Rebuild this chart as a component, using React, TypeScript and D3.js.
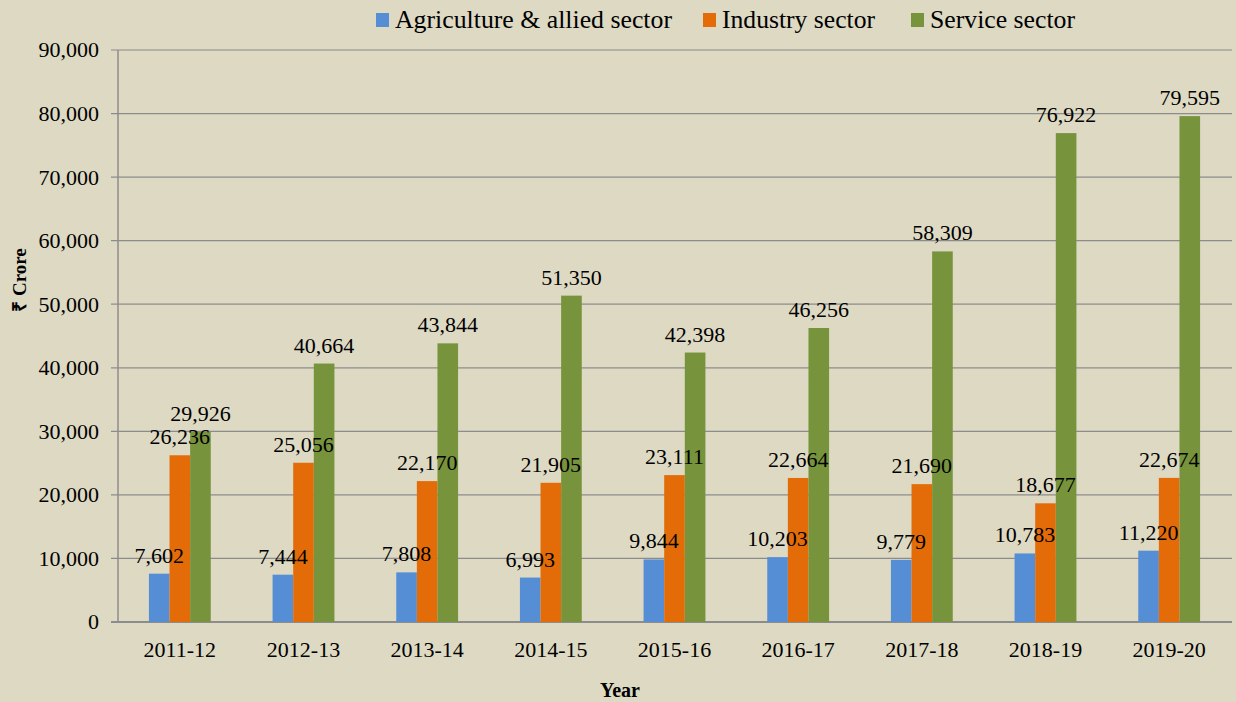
import React from "react";
import * as d3 from "d3";

const years = ["2011-12", "2012-13", "2013-14", "2014-15", "2015-16", "2016-17", "2017-18", "2018-19", "2019-20"];
const agriculture = [7602, 7444, 7808, 6993, 9844, 10203, 9779, 10783, 11220];
const industry = [26236, 25056, 22170, 21905, 23111, 22664, 21690, 18677, 22674];
const service = [29926, 40664, 43844, 51350, 42398, 46256, 58309, 76922, 79595];
const seriesNames = ["Agriculture & allied sector", "Industry sector", "Service sector"];
const seriesColors = ["#558ED5", "#E36C09", "#77933C"];
const yTicks = [0, 10000, 20000, 30000, 40000, 50000, 60000, 70000, 80000, 90000];

const W = 1236;
const H = 702;
const left = 118;
const right = 1231;
const top = 50;
const bottom = 622;
const FF = "Liberation Serif";

export default function App() {
  const seriesValues = [agriculture, industry, service];
  const x = d3.scaleBand().domain(years).range([left, right]).paddingInner(0.5).paddingOuter(0.25);
  const xi = d3.scaleBand().domain(seriesNames).range([0, x.bandwidth()]);
  const y = d3.scaleLinear().domain([0, 90000]).range([bottom, top]);
  const fmt = d3.format(",");

  const legendX = [376, 703, 911];
  const legendW = [277, 153, 145];

  const cells = years.flatMap((yr, i) =>
    seriesNames.map((s, j) => {
      const v = seriesValues[j][i];
      const bx = (x(yr) as number) + (xi(s) as number);
      return { key: yr + s, v, bx, color: seriesColors[j] };
    })
  );

  return (
    <svg width={W} height={H} style={{ position: "absolute", left: 0, top: 0, background: "#DDD9C3" }}>
      <rect x={0} y={0} width={W} height={H} fill="#DDD9C3" />
      {yTicks.map((t) => (
        <g key={t}>
          <line x1={111} x2={right + 1} y1={y(t)} y2={y(t)} stroke="#8C8C8C" strokeWidth={t === 0 ? 2 : 1.2} />
          <text x={99} y={y(t)} dy="0.34em" textAnchor="end" fontSize={22} fontFamily={FF} fill="#000">{fmt(t)}</text>
        </g>
      ))}
      <line x1={left} x2={left} y1={top} y2={bottom} stroke="#8C8C8C" strokeWidth={1.5} />
      {cells.map((c) => (
        <rect key={"r" + c.key} x={c.bx} y={y(c.v)} width={xi.bandwidth()} height={bottom - y(c.v)} fill={c.color} />
      ))}
      {cells.map((c) => (
        <text key={"t" + c.key} x={c.bx + xi.bandwidth() / 2} y={y(c.v) - 11} textAnchor="middle" fontSize={22} fontFamily={FF} fill="#000">{fmt(c.v)}</text>
      ))}
      {years.map((yr) => (
        <text key={yr} x={(x(yr) as number) + x.bandwidth() / 2} y={657} textAnchor="middle" fontSize={22} fontFamily={FF} fill="#000">{yr}</text>
      ))}
      {seriesNames.map((s, j) => (
        <g key={s}>
          <rect x={legendX[j]} y={13} width={13} height={14} fill={seriesColors[j]} />
          <text x={legendX[j] + 19} y={28} fontSize={25} fontFamily={FF} textLength={legendW[j]} lengthAdjust="spacingAndGlyphs" fill="#000">{s}</text>
        </g>
      ))}
      <text x={620} y={697} textAnchor="middle" fontSize={20} fontWeight="bold" fontFamily={FF} fill="#000">Year</text>
      <text transform="translate(26,280) rotate(-90)" textAnchor="middle" fontSize={19} fontWeight="bold" fontFamily={FF} fill="#000">₹ Crore</text>
    </svg>
  );
}
